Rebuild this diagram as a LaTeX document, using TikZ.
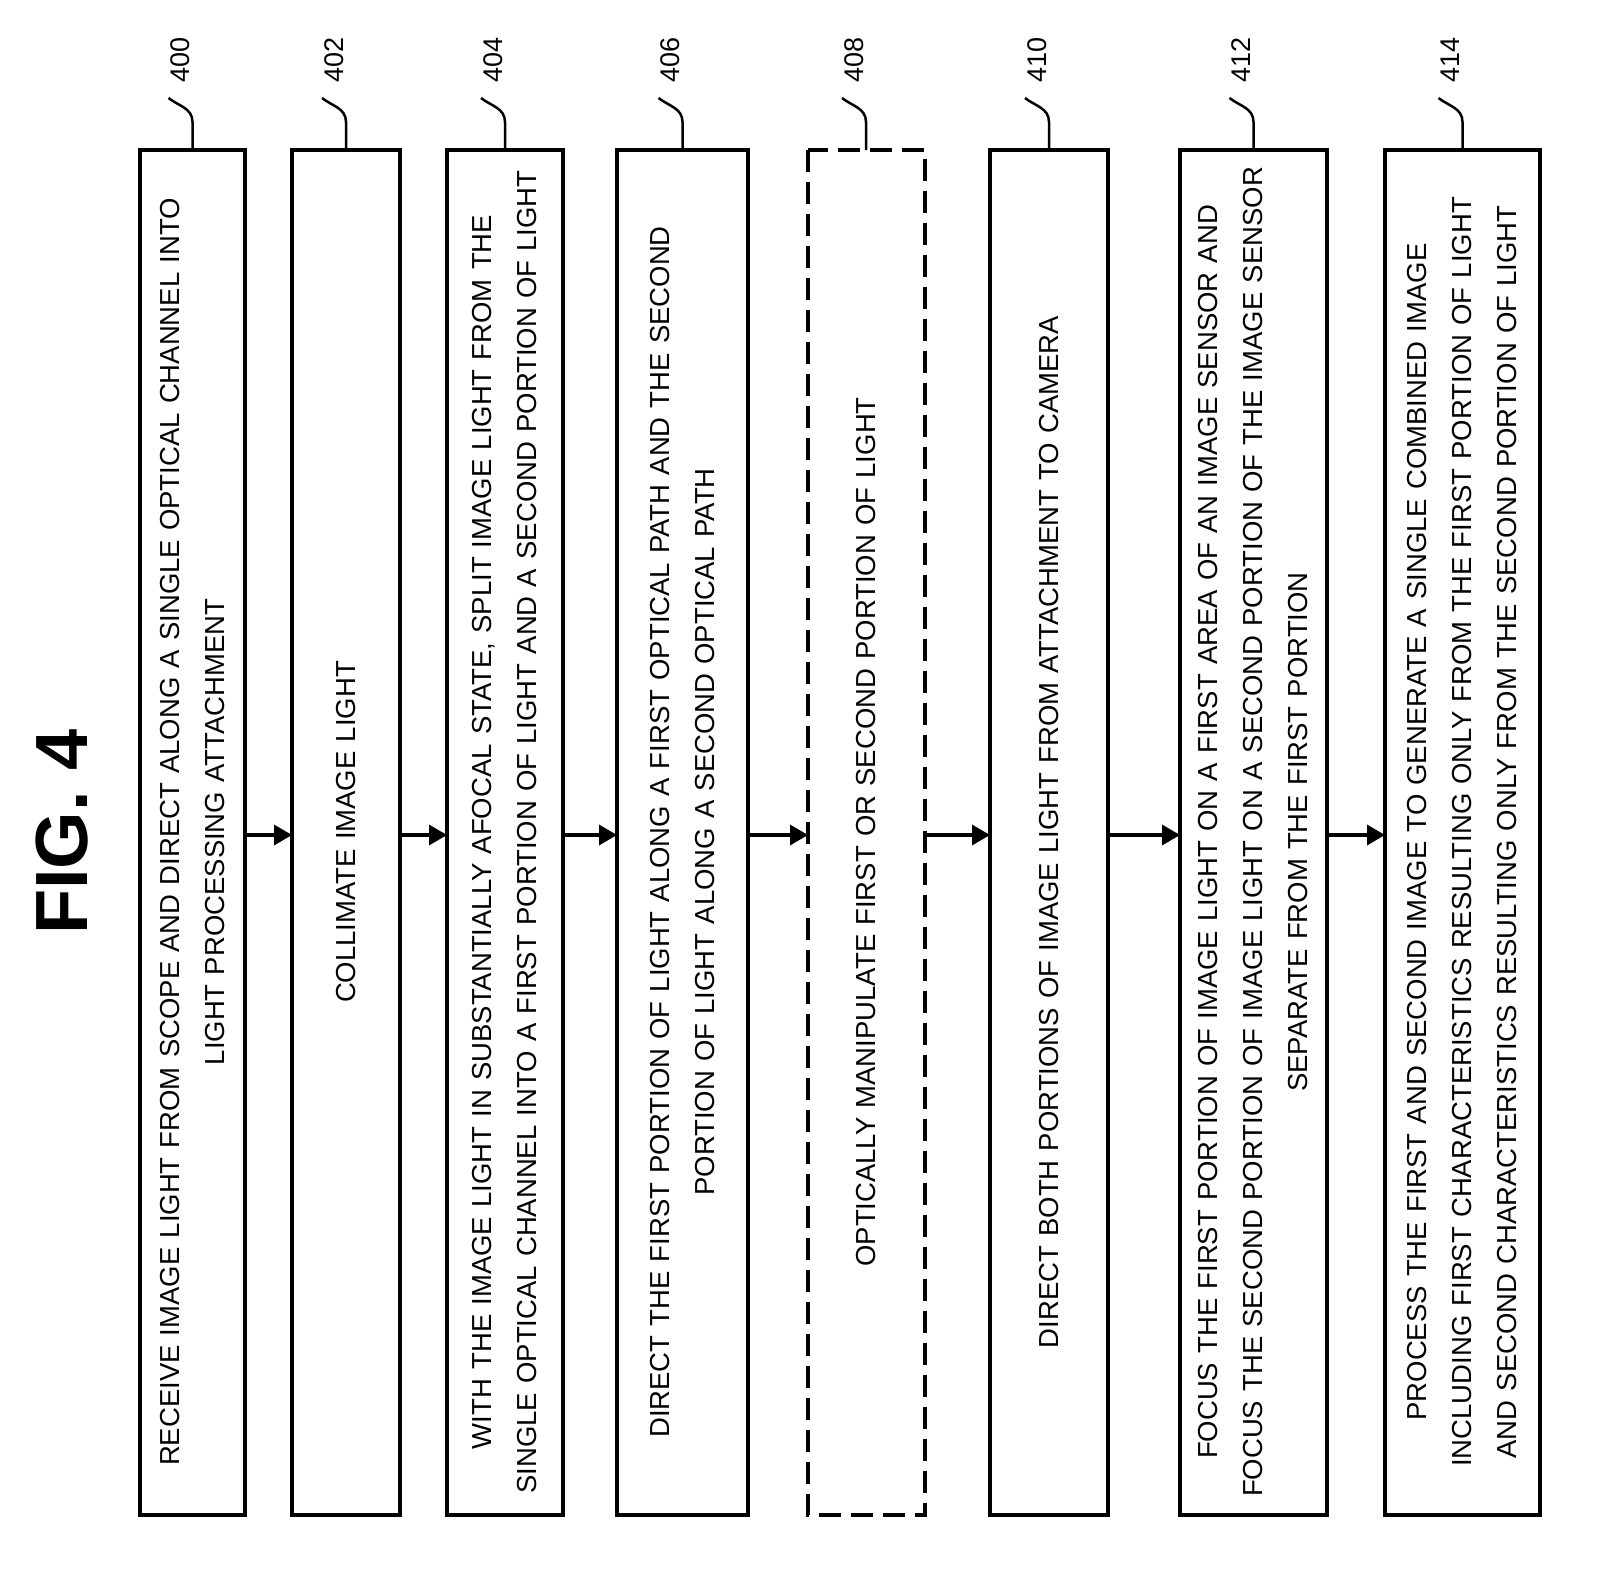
\documentclass[tikz,border=0pt]{standalone}
\usepackage{fontspec}
\setmainfont{Liberation Sans}
\usetikzlibrary{arrows.meta}
\begin{document}
\begin{tikzpicture}[x=1pt,y=-1pt,
  stepbox/.style={draw,line width=4pt},
  dashbox/.style={draw,line width=4pt,dash pattern=on 22pt off 10pt},
  txt/.style={rotate=90,align=center,font=\fontsize{27.5}{45}\selectfont,text width=1345pt,inner sep=0pt},
  num/.style={rotate=90,font=\fontsize{27}{30}\selectfont},
  lead/.style={line width=2.5pt},
  arr/.style={line width=3.5pt,-{Triangle[length=18pt,width=20pt]}}]
\useasboundingbox (0,0) rectangle (1612,1583);
\node[rotate=90,font=\fontsize{74}{80}\bfseries] (fig) at (62,832) {FIG. 4};
\foreach \n/\a/\b/\lab/\t in {
 b400/140/245/400/{RECEIVE IMAGE LIGHT FROM SCOPE AND DIRECT ALONG A SINGLE OPTICAL CHANNEL INTO\\LIGHT PROCESSING ATTACHMENT},
 b402/292/400/402/{COLLIMATE IMAGE LIGHT},
 b404/447/563/404/{WITH THE IMAGE LIGHT IN SUBSTANTIALLY AFOCAL STATE, SPLIT IMAGE LIGHT FROM THE\\SINGLE OPTICAL CHANNEL INTO A FIRST PORTION OF LIGHT AND A SECOND PORTION OF LIGHT},
 b406/617/748/406/{DIRECT THE FIRST PORTION OF LIGHT ALONG A FIRST OPTICAL PATH AND THE SECOND\\PORTION OF LIGHT ALONG A SECOND OPTICAL PATH},
 b410/990/1108/410/{DIRECT BOTH PORTIONS OF IMAGE LIGHT FROM ATTACHMENT TO CAMERA},
 b412/1180/1327/412/{FOCUS THE FIRST PORTION OF IMAGE LIGHT ON A FIRST AREA OF AN IMAGE SENSOR AND\\FOCUS THE SECOND PORTION OF IMAGE LIGHT ON A SECOND PORTION OF THE IMAGE SENSOR\\SEPARATE FROM THE FIRST PORTION},
 b414/1385/1540/414/{PROCESS THE FIRST AND SECOND IMAGE TO GENERATE A SINGLE COMBINED IMAGE\\INCLUDING FIRST CHARACTERISTICS RESULTING ONLY FROM THE FIRST PORTION OF LIGHT\\AND SECOND CHARACTERISTICS RESULTING ONLY FROM THE SECOND PORTION OF LIGHT}}
{
 \draw[stepbox] (\a,150) rectangle (\b,1515);
 \coordinate (\n-w) at (\a,835); \coordinate (\n-e) at (\b,835);
 \node[txt] (\n) at ({(\a+\b)/2},832) {\t};
 \coordinate (\n-top) at ({(\a+\b)/2},150);
 \draw[lead] (\n-top) -- ++(0,-28) .. controls ++(0,-14) and ++(10,8) .. ++(-24,-24) coordinate (\n-l);
 \node[num] (\n-num) at ([xshift=-12pt]\n-top |- 0,60) {\lab};
}
\draw[dashbox] (808,150) rectangle (925,1515);
\coordinate (b408-w) at (808,835); \coordinate (b408-e) at (925,835);
\node[txt] (b408) at (866,832) {OPTICALLY MANIPULATE FIRST OR SECOND PORTION OF LIGHT};
\coordinate (b408-top) at (866,150);
\draw[lead] (b408-top) -- ++(0,-28) .. controls ++(0,-14) and ++(10,8) .. ++(-24,-24) coordinate (b408-l);
\node[num] (b408-num) at ([xshift=-12pt]b408-top |- 0,60) {408};
\draw[arr] (b400-e) -- (b402-w);
\draw[arr] (b402-e) -- (b404-w);
\draw[arr] (b404-e) -- (b406-w);
\draw[arr] (b406-e) -- (b408-w);
\draw[arr] (b408-e) -- (b410-w);
\draw[arr] (b410-e) -- (b412-w);
\draw[arr] (b412-e) -- (b414-w);
\end{tikzpicture}
\end{document}
